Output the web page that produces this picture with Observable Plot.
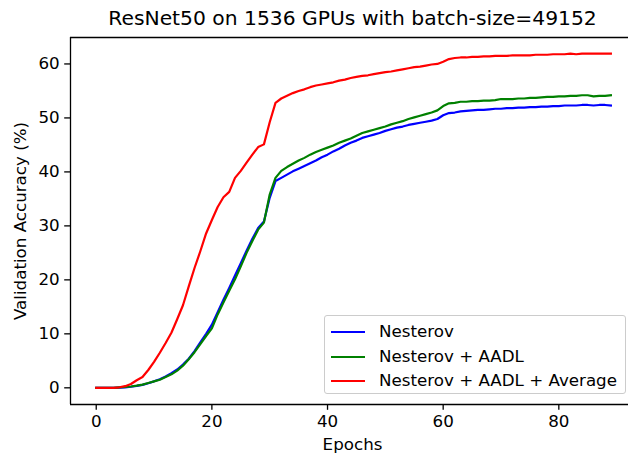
<!DOCTYPE html>
<html>
<head>
<meta charset="utf-8">
<script src="https://cdn.jsdelivr.net/npm/d3@7"></script>
<script src="https://cdn.jsdelivr.net/npm/@observablehq/plot@0.6"></script>
<style>
  html, body { margin: 0; padding: 0; background: #fff; }
  #wrap { position: relative; width: 628px; height: 454px; font-family: "DejaVu Sans", sans-serif; overflow: hidden; }
  #legend { position: absolute; left: 324px; top: 315px; width: 302px; height: 79px;
    border: 1px solid #cccccc; border-radius: 3px; background: rgba(255,255,255,0.8); box-sizing: border-box; }
  .row { position: absolute; left: 0; height: 22px; font-size: 16.7px; color: #000; white-space: nowrap; }
  .sw { position: absolute; left: 6px; top: 10px; width: 34px; height: 2.2px; }
  .lb { position: absolute; left: 54px; top: 0px; line-height: 20px; }
</style>
</head>
<body>
<div id="wrap"></div>
<script>
const seriesNames = ["Nesterov", "Nesterov + AADL", "Nesterov + AADL + Average"];
const seriesColors = ["#0000ff", "#008000", "#ff0000"];
const epochs = d3.range(90);

const nesterov = [
  0, 0, 0, 0, 0.05, 0.1, 0.2, 0.35, 0.55, 0.85,
  1.2, 1.6, 2.1, 2.7, 3.4, 4.3, 5.4, 6.8, 8.4, 10.0,
  11.7, 14.0, 16.3, 18.5, 20.8, 23.1, 25.4, 27.6, 29.6, 30.8,
  35.2, 38.3, 38.9, 39.5, 40.1, 40.6, 41.1, 41.6, 42.1, 42.7,
  43.2, 43.8, 44.3, 44.9, 45.4, 45.8, 46.3, 46.6, 46.9, 47.2,
  47.6, 47.9, 48.2, 48.4, 48.7, 48.9, 49.1, 49.3, 49.5, 49.8,
  50.5, 50.9, 51.0, 51.2, 51.3, 51.4, 51.5, 51.5, 51.6, 51.7,
  51.7, 51.8, 51.8, 51.9, 51.9, 52.0, 52.0, 52.1, 52.1, 52.2,
  52.2, 52.3, 52.3, 52.3, 52.4, 52.4, 52.3, 52.4, 52.4, 52.3
];
const aadl = [
  0, 0, 0, 0, 0.1, 0.15, 0.25, 0.4, 0.6, 0.9,
  1.2, 1.5, 2.0, 2.5, 3.2, 4.1, 5.3, 6.6, 8.1, 9.6,
  11.0, 13.6, 15.8, 18.0, 20.1, 22.5, 25.0, 27.2, 29.3, 30.6,
  35.8, 38.9, 40.2, 40.9, 41.5, 42.1, 42.6, 43.2, 43.7, 44.1,
  44.5, 44.9, 45.4, 45.8, 46.2, 46.7, 47.2, 47.5, 47.8, 48.1,
  48.4, 48.8, 49.1, 49.4, 49.8, 50.1, 50.4, 50.7, 51.0, 51.4,
  52.2, 52.7, 52.8, 53.0, 53.0, 53.1, 53.1, 53.2, 53.2, 53.3,
  53.5, 53.5, 53.5, 53.6, 53.6, 53.7, 53.7, 53.8, 53.9, 53.9,
  54.0, 54.0, 54.1, 54.1, 54.2, 54.2, 54.0, 54.1, 54.1, 54.2
];
const aadlAverage = [
  0, 0, 0, 0, 0.1, 0.3, 0.7, 1.4, 2.0, 3.3,
  4.8, 6.5, 8.3, 10.2, 12.7, 15.3, 18.8, 22.2, 25.3, 28.6,
  31.1, 33.5, 35.3, 36.3, 38.9, 40.2, 41.7, 43.2, 44.6, 45.1,
  49.2, 52.8, 53.6, 54.1, 54.6, 55.0, 55.3, 55.7, 56.0, 56.2,
  56.4, 56.6, 56.9, 57.1, 57.4, 57.6, 57.8, 57.9, 58.1, 58.3,
  58.5, 58.6, 58.8, 59.0, 59.2, 59.4, 59.5, 59.7, 59.9, 60.0,
  60.4, 60.9, 61.1, 61.2, 61.2, 61.3, 61.3, 61.4, 61.4, 61.5,
  61.5, 61.5, 61.6, 61.6, 61.6, 61.6, 61.7, 61.7, 61.7, 61.8,
  61.8, 61.8, 61.9, 61.8, 61.9, 61.9, 61.9, 61.9, 61.9, 61.9
];
const xTicks = [0, 20, 40, 60, 80];
const yTicks = [0, 10, 20, 30, 40, 50, 60];
const titleText = "ResNet50 on 1536 GPUs with batch-size=49152";
const xLabel = "Epochs";
const yLabel = "Validation Accuracy (%)";

const allSeries = [nesterov, aadl, aadlAverage];
const rows = [];
allSeries.forEach((vals, i) => vals.forEach((v, j) => rows.push({epoch: epochs[j], acc: v, series: seriesNames[i]})));

const xDomain = [-4.45, 92.05];
const yDomain = [-3.09, 64.9];

const chart = Plot.plot({
  width: 628,
  height: 454,
  marginLeft: 70,
  marginRight: 0,
  marginTop: 37,
  marginBottom: 50,
  style: {fontFamily: "DejaVu Sans, sans-serif", fontSize: "16.7px", color: "#000", background: "#fff", overflow: "visible"},
  x: {domain: xDomain, label: null},
  y: {domain: yDomain, label: null},
  color: {domain: seriesNames, range: seriesColors},
  marks: [
    Plot.line(rows, {x: "epoch", y: "acc", z: "series", stroke: "series", strokeWidth: 2.2, strokeLinejoin: "round", strokeLinecap: "square"}),
    Plot.ruleX([xDomain[0]], {stroke: "#000", strokeWidth: 1.3}),
    Plot.ruleY([yDomain[0], yDomain[1]], {stroke: "#000", strokeWidth: 1.3}),
    Plot.axisX({ticks: xTicks, tickSize: 5.8, tickPadding: 5, tickFormat: d3.format("d"), fontSize: 16.7, label: null, strokeWidth: 1.3}),
    Plot.axisY({ticks: yTicks, tickSize: 5.8, tickPadding: 5, tickFormat: d3.format("d"), fontSize: 16.7, label: null, strokeWidth: 1.3}),
    Plot.text([titleText], {frameAnchor: "top", dy: -19, dx: 3, fontSize: 20.3, fill: "#000", lineAnchor: "middle"}),
    Plot.text([xLabel], {frameAnchor: "bottom", dy: 45, dx: 3, fontSize: 16.7, fill: "#000"}),
    Plot.text([yLabel], {frameAnchor: "left", dx: -50, rotate: -90, textAnchor: "middle", fontSize: 16.7, fill: "#000"})
  ]
});

const wrap = document.getElementById("wrap");
wrap.appendChild(chart);

const legend = document.createElement("div");
legend.id = "legend";
seriesNames.forEach((name, i) => {
  const row = document.createElement("div");
  row.className = "row";
  row.style.top = (5 + i * 24.5) + "px";
  const sw = document.createElement("div");
  sw.className = "sw";
  sw.style.background = seriesColors[i];
  const lb = document.createElement("div");
  lb.className = "lb";
  lb.textContent = name;
  row.appendChild(sw);
  row.appendChild(lb);
  legend.appendChild(row);
});
wrap.appendChild(legend);
</script>
</body>
</html>
